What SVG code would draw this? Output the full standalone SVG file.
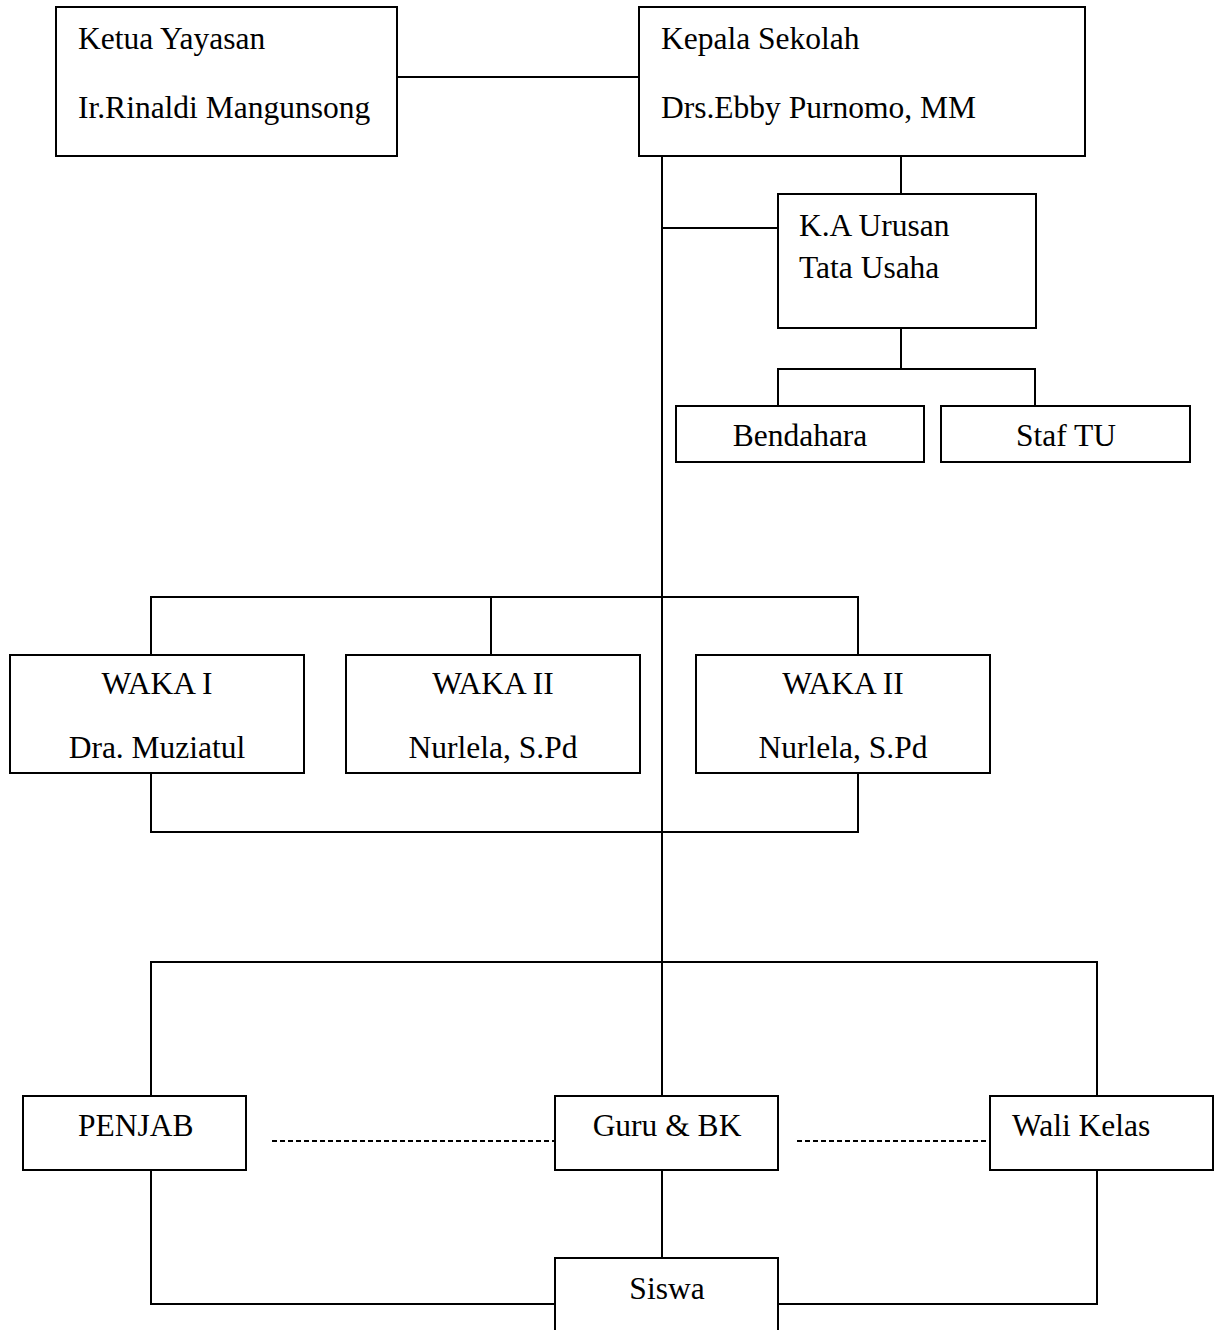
<svg xmlns="http://www.w3.org/2000/svg" width="1217" height="1330" viewBox="0 0 1217 1330">
<style>
.box{fill:#fff;stroke:#000;stroke-width:2}
.ln{fill:none;stroke:#000;stroke-width:2}
.dash{fill:none;stroke:#000;stroke-width:2;stroke-dasharray:5 3}
text{font-family:"Liberation Serif","Times New Roman",serif;font-size:31.5px;fill:#000}
.c{text-anchor:middle}
</style>
<rect width="1217" height="1330" fill="#fff"/>
<g id="connectors">
<path class="ln" d="M397 77H639"/>
<path class="ln" d="M662 156V1096"/>
<path class="ln" d="M901 156V194"/>
<path class="ln" d="M662 228H778"/>
<path class="ln" d="M901 328V369M778 406V369H1035V406"/>
<path class="ln" d="M151 655V597H858V655M491 597V655"/>
<path class="ln" d="M151 773V832H858V773"/>
<path class="ln" d="M151 1096V962H1097V1096"/>
<path class="ln" d="M662 1170V1258"/>
<path class="ln" d="M151 1170V1304H555M778 1304H1097V1170"/>
<path class="dash" d="M272 1141H555M797 1141H990"/>
</g>
<g id="ketua"><rect class="box" x="56" y="7" width="341" height="149"/>
<text x="78" y="49">Ketua Yayasan</text><text x="78" y="118">Ir.Rinaldi Mangunsong</text></g>
<g id="kepala"><rect class="box" x="639" y="7" width="446" height="149"/>
<text x="661" y="49">Kepala Sekolah</text><text x="661" y="118">Drs.Ebby Purnomo, MM</text></g>
<g id="ka-tu"><rect class="box" x="778" y="194" width="258" height="134"/>
<text x="799" y="236">K.A Urusan</text><text x="799" y="278">Tata Usaha</text></g>
<g id="bendahara"><rect class="box" x="676" y="406" width="248" height="56"/>
<text class="c" x="800" y="446">Bendahara</text></g>
<g id="staf-tu"><rect class="box" x="941" y="406" width="249" height="56"/>
<text class="c" x="1066" y="446">Staf TU</text></g>
<g id="waka1"><rect class="box" x="10" y="655" width="294" height="118"/>
<text class="c" x="157" y="694">WAKA I</text><text class="c" x="157" y="758">Dra. Muziatul</text></g>
<g id="waka2"><rect class="box" x="346" y="655" width="294" height="118"/>
<text class="c" x="493" y="694">WAKA II</text><text class="c" x="493" y="758">Nurlela, S.Pd</text></g>
<g id="waka3"><rect class="box" x="696" y="655" width="294" height="118"/>
<text class="c" x="843" y="694">WAKA II</text><text class="c" x="843" y="758">Nurlela, S.Pd</text></g>
<g id="penjab"><rect class="box" x="23" y="1096" width="223" height="74"/>
<text x="78" y="1136">PENJAB</text></g>
<g id="guru-bk"><rect class="box" x="555" y="1096" width="223" height="74"/>
<text class="c" x="667" y="1136">Guru &amp; BK</text></g>
<g id="wali-kelas"><rect class="box" x="990" y="1096" width="223" height="74"/>
<text x="1012" y="1136">Wali Kelas</text></g>
<g id="siswa"><rect class="box" x="555" y="1258" width="223" height="90"/>
<text class="c" x="667" y="1299">Siswa</text></g>
</svg>
